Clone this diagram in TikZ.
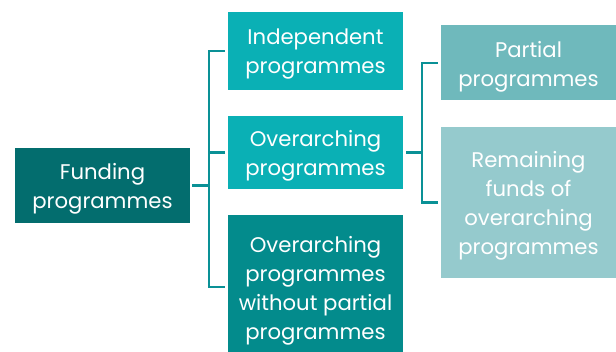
\documentclass[tikz,border=0pt]{standalone}
\usepackage{fontspec}
\setmainfont{Poppins}
\begin{document}
\begin{tikzpicture}[x=1pt,y=1pt,
  box/.style={draw=none, minimum width=175pt, inner sep=0pt},
  txt/.style={text=white, align=center, inner sep=0pt, yshift=-3.5pt,
    font=\fontsize{21.2}{29}\selectfont},
  conn/.style={draw=connc, line width=2.4pt}]
\definecolor{fundc}{HTML}{036D6E}
\definecolor{midc}{HTML}{0AB0B5}
\definecolor{darkc}{HTML}{038B8C}
\definecolor{partc}{HTML}{6FB9BC}
\definecolor{remc}{HTML}{95CACD}
\definecolor{connc}{HTML}{0A9196}
\useasboundingbox (0,0) rectangle (616,352);
\clip (0,0) rectangle (616,352);

% boxes, each with its centred caption
\node[box, fill=fundc, minimum height=75pt,
  label={[txt]center:Funding\\programmes}] (fund) at (102.5,166.5) {};
\node[box, fill=midc, minimum height=78pt,
  label={[txt]center:Independent\\programmes}] (ind) at (315.5,301) {};
\node[box, fill=midc, minimum height=73pt,
  label={[txt]center:Overarching\\programmes}] (ov) at (315.5,199.5) {};
\node[box, fill=darkc, minimum height=144pt,
  label={[txt]center:Overarching\\programmes\\without partial\\programmes}] (wo) at (315.5,65) {};
\node[box, fill=partc, minimum height=75pt,
  label={[txt]center:Partial\\programmes}] (part) at (528.5,289) {};
\node[box, fill=remc, minimum height=151pt,
  label={[txt]center:Remaining\\funds of\\overarching\\programmes}] (rem) at (528.5,149.5) {};

% trunk positions
\coordinate (ta) at (209,0);
\coordinate (tb) at (422,0);

% first level bracket
\draw[conn] ([xshift=-3pt]ind.west) -| (ta |- wo.west) -- ([xshift=-3pt]wo.west);
\draw[conn] ([xshift=2pt]fund.east) -- (fund.east -| ta);
\draw[conn] ([xshift=-3pt]ov.west) -- (ov.west -| ta);

% second level bracket
\draw[conn] ([xshift=-3pt]part.west) -| (tb |- rem.west) -- ([xshift=-3pt]rem.west);
\draw[conn] ([xshift=3pt]ov.east) -- (ov.east -| tb);
\end{tikzpicture}
\end{document}
